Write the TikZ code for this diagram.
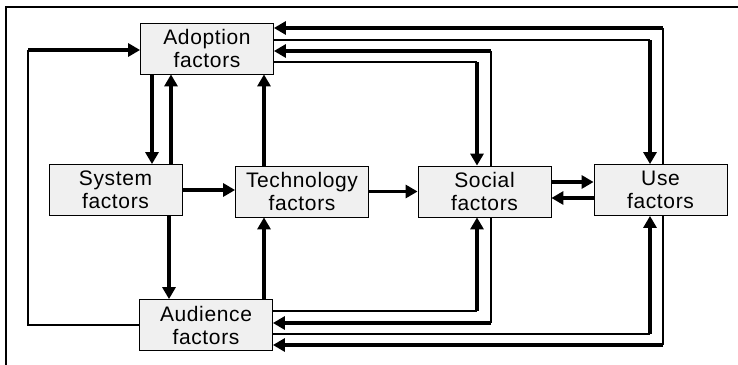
\documentclass[tikz,border=0pt]{standalone}
\usepackage{fontspec}
\setmainfont{Liberation Sans}[LetterSpace=3]
\usetikzlibrary{arrows.meta}
\definecolor{boxgray}{HTML}{F0F0F0}
\tikzset{
	factor/.style={draw, line width=0.8, fill=boxgray, minimum width=133,
		minimum height=51, inner sep=0, align=center,
		font=\fontsize{21}{23}\selectfont},
	flow/.style={line width=3.3, -{Triangle[length=12pt, width=13pt]}},
	wire/.style={line width=1.3},
}
\begin{document}
\begin{tikzpicture}[x=1pt, y=-1pt]
	% Frame.
	\useasboundingbox (0, 0) rectangle (738, 364);
	\draw[wire] (6, 370) -- (6, 7) -- (745, 7);
	% Factors.
	\node[factor] (adoption) at (207, 48.5) {Adoption\\factors};
	\node[factor] (system) at (115.5, 190) {System\\factors};
	\node[factor] (technology) at (302, 191.5) {Technology\\factors};
	\node[factor] (social) at (484.5, 191.5) {Social\\factors};
	\node[factor] (use) at (660.5, 190) {Use\\factors};
	\node[factor] (audience) at (206, 325) {Audience\\factors};
	% Lanes.
	\coordinate (sysin) at (152, 0);
	\coordinate (sysout) at (171, 0);
	\coordinate (audin) at (169, 0);
	\coordinate (techlane) at (264, 0);
	\coordinate (loop) at (28, 50);
	\coordinate (useadopt) at (663, 28);
	\coordinate (adoptuse) at (650, 40);
	\coordinate (socadopt) at (491, 51);
	\coordinate (adoptsoc) at (477, 62);
	\coordinate (audsoc) at (477, 311);
	\coordinate (socaud) at (491, 323);
	\coordinate (auduse) at (650, 334);
	\coordinate (useaud) at (663, 345);
	% Left column.
	\draw[flow] (adoption.south -| sysin) -- (system.north -| sysin);
	\draw[flow] (system.north -| sysout) -- (adoption.south -| sysout);
	\draw[flow] (system.south -| audin) -- (audience.north -| audin);
	\draw[flow] (technology.north -| techlane) -- (adoption.south -| techlane);
	\draw[flow] (audience.north -| techlane) -- (technology.south -| techlane);
	\draw[wire] (audience.west) -| (loop);
	\draw[flow] (loop) -- (adoption.west |- loop);
	% Middle row.
	\draw[flow] (system.east) -- (technology.west |- system.east);
	\draw[flow] (technology.east) -- (social.west);
	\draw[flow] ([yshift=9.5pt]social.east) -- ([yshift=9.5pt]social.east -| use.west);
	\draw[flow] ([yshift=-6.5pt]social.east -| use.west) -- ([yshift=-6.5pt]social.east);
	% Top lanes.
	\draw[wire] (use.north -| useadopt) -- (useadopt);
	\draw[flow] (useadopt) -- (adoption.east |- useadopt);
	\draw[wire] (adoption.east |- adoptuse) -- (adoptuse);
	\draw[flow] (adoptuse) -- (use.north -| adoptuse);
	\draw[wire] (social.north -| socadopt) -- (socadopt);
	\draw[flow] (socadopt) -- (adoption.east |- socadopt);
	\draw[wire] (adoption.east |- adoptsoc) -- (adoptsoc);
	\draw[flow] (adoptsoc) -- (social.north -| adoptsoc);
	% Bottom lanes.
	\draw[wire] (audience.east |- audsoc) -- (audsoc);
	\draw[flow] (audsoc) -- (social.south -| audsoc);
	\draw[wire] (social.south -| socaud) -- (socaud);
	\draw[flow] (socaud) -- (audience.east |- socaud);
	\draw[wire] (audience.east |- auduse) -- (auduse);
	\draw[flow] (auduse) -- (use.south -| auduse);
	\draw[wire] (use.south -| useaud) -- (useaud);
	\draw[flow] (useaud) -- (audience.east |- useaud);
\end{tikzpicture}
\end{document}
